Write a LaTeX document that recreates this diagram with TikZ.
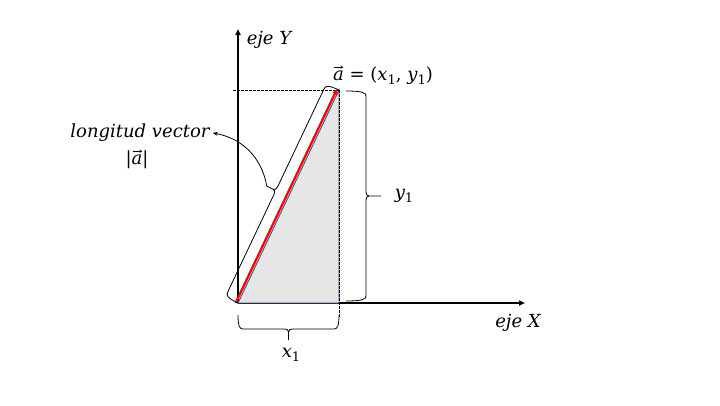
\documentclass[tikz,border=0pt]{standalone}
\usepackage{fontspec}
\setmainfont{DejaVu Serif}
\usetikzlibrary{arrows.meta,calc,decorations}

\pgfkeys{/pgf/decoration/.cd, wbtip/.store in=\wbtip, wbtip=10pt, wbr/.store in=\wbr, wbr=5pt}
\pgfdeclaredecoration{wbrace}{wb}{%
\state{wb}[width=+\pgfdecoratedremainingdistance,next state=final]{%
\pgfmathsetlengthmacro\wbL{\pgfdecoratedpathlength}%
\pgfmathsetlengthmacro\wbH{\pgfdecoratedpathlength/2}%
\pgfmathsetlengthmacro\wbA{\pgfdecorationsegmentamplitude}%
\pgfmathsetlengthmacro\wbT{\wbtip}%
\pgfmathsetlengthmacro\wbR{\wbr}%
\pgfpathmoveto{\pgfpointorigin}%
\pgfpathcurveto{\pgfpoint{0pt}{0.85*\wbA}}{\pgfpoint{0.4*\wbR}{\wbA}}{\pgfpoint{\wbR}{\wbA}}%
\pgfpathlineto{\pgfpoint{\wbH-\wbR}{\wbA}}%
\pgfpathcurveto{\pgfpoint{\wbH-0.3*\wbR}{\wbA}}{\pgfpoint{\wbH}{\wbA+1pt}}{\pgfpoint{\wbH}{\wbA+3pt}}%
\pgfpathlineto{\pgfpoint{\wbH}{\wbT}}%
\pgfpathmoveto{\pgfpoint{\wbL}{0pt}}%
\pgfpathcurveto{\pgfpoint{\wbL}{0.85*\wbA}}{\pgfpoint{\wbL-0.4*\wbR}{\wbA}}{\pgfpoint{\wbL-\wbR}{\wbA}}%
\pgfpathlineto{\pgfpoint{\wbH+\wbR}{\wbA}}%
\pgfpathcurveto{\pgfpoint{\wbH+0.3*\wbR}{\wbA}}{\pgfpoint{\wbH}{\wbA+1pt}}{\pgfpoint{\wbH}{\wbA+3pt}}%
}%
\state{final}{}%
}

\definecolor{tgray}{HTML}{E7E6E6}
\definecolor{tblue}{HTML}{2F528F}
\newcommand\subn[1]{\raisebox{-0.45ex}{\fontsize{13}{13}\selectfont\upshape #1}}

\begin{document}
\begin{tikzpicture}[x=1pt,y=1pt,
  lbl/.style={font=\fontsize{18}{22}\selectfont\itshape, inner sep=1pt},
  axis/.style={line width=1.8pt, -{Triangle[length=6pt,width=5pt]}},
  dashln/.style={line width=0.7pt, dash pattern=on 2.5pt off 1.5pt},
  bracestyle/.style={line width=0.8pt, decorate},
  vecarrow/.style={line width=0.6pt, -{Stealth[length=3pt,width=3pt]}},
]
\useasboundingbox (0,0) rectangle (720,-405);
\fill[white] (0,0) rectangle (720,-405);

\coordinate (O) at (238,-303);
\coordinate (A) at (339,-90);
\coordinate (P) at (339,-303);
\coordinate (Yt) at (238,-29);
\coordinate (Xt) at (525,-303);
\coordinate (Hd) at (233,-90);
\coordinate (Vd) at (339,-318);
\coordinate (ya) at (346,-91);
\coordinate (yb) at (346,-301);
\coordinate (xa) at (238,-315);
\coordinate (xb) at (339,-315);

% axes
\draw[axis] (O) -- (Yt);
\draw[axis] (O) -- (Xt);

% triangle
\filldraw[fill=tgray, draw=tblue, line width=0.9pt] (O) -- (A) -- (P) -- cycle;

% dashed guides
\draw[dashln] (Hd) -- (A);
\draw[dashln] (A) -- (Vd);

% red vector
\draw[red, line width=2.3pt, -{Triangle[length=5pt,width=5pt]}, shorten >=-1pt]
  ([xshift=-2.4pt]O) -- ([xshift=-2.4pt]A);

% braces
\draw[bracestyle, decoration={wbrace, amplitude=14pt, wbtip=24pt, wbr=5pt}] (O) -- (A);
\draw[bracestyle, decoration={wbrace, amplitude=20pt, wbtip=35pt, wbr=5pt}] (ya) -- (yb);
\draw[bracestyle, decoration={wbrace, amplitude=14pt, wbtip=25pt, wbr=5pt}] (xb) -- (xa);

\coordinate (htip) at ($(O)!0.5!(A)!24pt!90:(A)$);

% labels
\node[lbl] (ejeY) at (269,-40) {eje Y};
\node[lbl] (ejeX) at (518,-323) {eje X};
\node[lbl] (avec) at (383,-76) {a{\upshape\ = (}x\subn{1}{\upshape ,} y\subn{1}{\upshape )}};
\node[lbl] (lv) at (140,-133) {longitud vector};
\node[lbl] (mod) at (137,-160) {{\upshape|}a{\upshape|}};
\node[lbl] (y1) at (404,-196) {y\subn{1}};
\node[lbl] (x1) at (291,-355) {x\subn{1}};

% vector arrows above the letter a
\draw[vecarrow] ($(avec.base west)+(1.5,13.5)$) -- ($(avec.base west)+(11.5,13.5)$);
\draw[vecarrow] ($(mod.base)+(-4.5,13.5)$) -- ($(mod.base)+(5.5,13.5)$);

\draw[line width=0.8pt, -{Stealth[length=5pt,width=4pt]}] (htip) to[out=100,in=-10] ([xshift=2pt]lv.east);
\end{tikzpicture}
\end{document}
